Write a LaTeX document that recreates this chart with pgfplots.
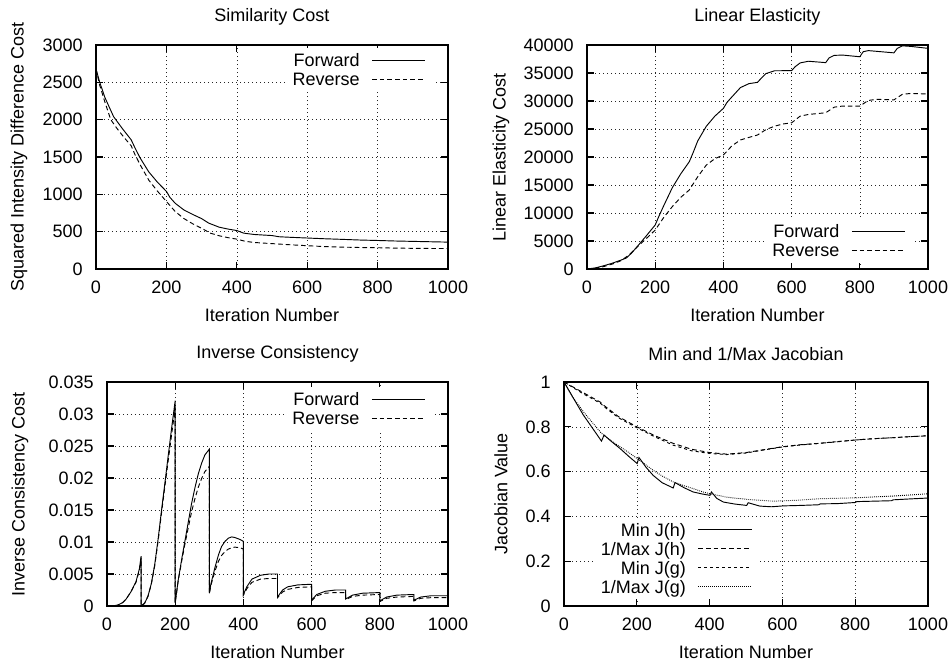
\documentclass[border=0pt]{standalone}
\usepackage{fontspec}
\setmainfont{Liberation Sans}
\usepackage{pgfplots}
\pgfplotsset{compat=1.18}
\pgfplotsset{
 gp/.style={scale only axis, height=168pt, xmin=0, xmax=1000,
  xtick={0,200,400,600,800,1000}, xticklabels={0,200,400,600,800,1000},
  scaled x ticks=false, scaled y ticks=false, no markers,
  /pgf/number format/assume math mode=true,
  grid=major,
  major grid style={line width=0.45pt, dash pattern=on 0.75pt off 2.25pt, black!85},
  axis line style={line width=0.9pt},
  every tick/.style={black, line width=0.8pt},
  major tick length=5pt, tick align=inside,
  xticklabel style={anchor=center, yshift=-13.5pt, inner sep=0pt},
  yticklabel style={anchor=east, xshift=-9.75pt, inner sep=0pt},
  every axis title/.style={at={(axis description cs:0.5,1)}, yshift=21pt, anchor=center},
  every axis x label/.style={at={(axis description cs:0.5,0)}, yshift=-34.5pt, anchor=center},
  xlabel={Iteration Number},
  legend cell align=right, legend plot pos=right,
  legend image code/.code={\draw[##1] (0pt,0pt) -- (40pt,0pt);},
  legend style={draw=none, fill=white, inner xsep=5pt, inner ysep=2pt,
    column sep=9pt, row sep=0pt,
    nodes={inner sep=0pt, text height=11.8pt, text depth=2.45pt}},
  every axis plot/.append style={line width=0.7pt, black},
 },
 ylab/.style={every axis y label/.style={at={(axis description cs:0,0.5)}, xshift=-#1, rotate=90, anchor=center}},
}
\tikzset{
 fwd/.style={black, solid},
 rev/.style={black, dash pattern=on 3.5pt off 2.25pt},
 shortd/.style={black, dash pattern=on 2.25pt off 2.25pt},
 dots/.style={black, dash pattern=on 0.6pt off 0.9pt},
}
\begin{document}
\fontsize{13.5}{16}\selectfont
\begin{tikzpicture}[font=\fontsize{13.5}{16}\selectfont]
\path[use as bounding box] (0,0) rectangle (713.25pt,-498pt);
% Panel 1
\begin{axis}[gp, at={(72pt,-33.75pt)}, anchor=north west, width=264pt,
  ymin=0, ymax=3000, ytick={0,500,1000,1500,2000,2500,3000},
  yticklabels={0,500,1000,1500,2000,2500,3000},
  title={Similarity Cost}, ylabel={Squared Intensity Difference Cost}, ylab=57.75pt,
  legend style={at={(0.957,0.987)}, anchor=north east}]
\addplot[fwd] coordinates {(0,2680)(10,2510)(25,2300)(50,2040)(75,1880)(100,1730)(110,1630)(125,1490)(150,1300)(175,1160)(200,1040)(210,960)(225,880)(250,790)(275,730)(300,675)(320,615)(350,560)(375,535)(400,515)(420,480)(450,462)(500,448)(520,432)(550,425)(600,415)(650,405)(700,397)(750,388)(800,382)(850,375)(900,370)(950,365)(1000,360)};
\addlegendentry{Forward}
\addplot[rev] coordinates {(0,2680)(10,2470)(25,2240)(42,2000)(60,1880)(80,1760)(100,1650)(110,1540)(125,1400)(150,1190)(175,1040)(200,905)(225,770)(250,675)(275,605)(300,545)(325,480)(350,445)(375,420)(400,400)(425,370)(450,355)(500,340)(550,325)(600,312)(650,300)(700,293)(750,288)(800,285)(850,280)(900,277)(950,275)(1000,275)};
\addlegendentry{Reverse}
\end{axis}
% Panel 2
\begin{axis}[gp, at={(440.25pt,-33.75pt)}, anchor=north west, width=255.75pt,
  ymin=0, ymax=40000, ytick={0,5000,10000,15000,20000,25000,30000,35000,40000},
  yticklabels={0,5000,10000,15000,20000,25000,30000,35000,40000},
  title={Linear Elasticity}, ylabel={Linear Elasticity Cost}, ylab=64.5pt,
  legend style={at={(0.955,0.027)}, anchor=south east}]
\addplot[fwd] coordinates {(0,0)(25,200)(50,600)(75,1050)(100,1600)(115,1950)(130,2800)(150,4200)(175,6000)(200,7860)(210,9300)(225,11300)(250,14500)(275,17000)(300,19160)(310,20600)(325,22900)(350,25500)(375,27300)(400,28690)(410,29700)(420,30400)(450,32400)(475,33100)(500,33330)(510,34000)(525,34900)(550,35400)(600,35420)(610,36100)(625,36800)(650,37100)(700,36850)(710,37700)(725,38150)(750,38200)(800,37900)(810,38800)(825,39000)(900,38600)(910,39400)(925,39850)(950,39750)(1000,39400)};
\addlegendentry{Forward}
\addplot[rev] coordinates {(0,0)(25,150)(50,450)(75,900)(100,1490)(125,2600)(150,4100)(175,5500)(200,6960)(225,9200)(250,11130)(275,12800)(300,14110)(325,16500)(350,18570)(375,19700)(400,20360)(425,22000)(450,23040)(475,23500)(500,23930)(525,24900)(550,25500)(575,25900)(600,26100)(625,27300)(650,27600)(700,27900)(725,28900)(750,29100)(800,29100)(825,30100)(850,30300)(900,30200)(925,31200)(950,31350)(1000,31250)};
\addlegendentry{Reverse}
\end{axis}
% Panel 3
\begin{axis}[gp, at={(80.25pt,-286.5pt)}, anchor=north west, width=255.75pt,
  ymin=0, ymax=0.035, ytick={0,0.005,0.01,0.015,0.02,0.025,0.03,0.035},
  yticklabels={0,0.005,0.01,0.015,0.02,0.025,0.03,0.035},
  title={Inverse Consistency}, ylabel={Inverse Consistency Cost}, ylab=65.25pt,
  legend style={at={(0.955,0.978)}, anchor=north east}]
\addplot[fwd] coordinates {(0,0)(30,0.0001)(45,0.0005)(55,0.001)(70,0.0022)(85,0.0038)(95,0.0058)(100,0.0078)(100,0.00005)(110,0.0004)(120,0.0015)(130,0.0035)(140,0.0065)(150,0.0105)(160,0.0150)(170,0.0193)(180,0.0237)(190,0.0280)(200,0.0321)(200,0.0005)(209,0.0041)(219,0.0073)(229,0.0103)(239,0.0133)(248,0.016)(258,0.0185)(268,0.0207)(278,0.0224)(287,0.0236)(300,0.0245)(300,0.0020)(305,0.0035)(317,0.0061)(327,0.0080)(336,0.0093)(346,0.0101)(356,0.0106)(366,0.0108)(375,0.0107)(390,0.0104)(400,0.0101)(400,0.0018)(410,0.0030)(425,0.0042)(450,0.0048)(475,0.0050)(500,0.0050)(500,0.0014)(515,0.0025)(530,0.0030)(560,0.0033)(600,0.0034)(600,0.0009)(615,0.0018)(640,0.0023)(670,0.0025)(700,0.0025)(700,0.0011)(720,0.0017)(750,0.0020)(800,0.0021)(800,0.0008)(820,0.0014)(850,0.0017)(900,0.0018)(900,0.0009)(920,0.0014)(950,0.0016)(1000,0.0016)};
\addlegendentry{Forward}
\addplot[rev] coordinates {(0,0)(30,0.0001)(45,0.0005)(55,0.001)(70,0.0022)(85,0.0037)(95,0.0056)(100,0.0075)(100,0.00005)(110,0.0004)(120,0.0015)(130,0.0034)(140,0.0063)(150,0.0102)(160,0.0146)(170,0.0188)(180,0.0229)(190,0.0270)(200,0.0310)(200,0.0005)(209,0.0040)(219,0.0070)(229,0.0098)(239,0.0124)(248,0.0147)(258,0.0168)(268,0.0186)(278,0.0200)(287,0.0210)(300,0.0218)(300,0.0019)(305,0.0033)(317,0.0055)(327,0.0070)(336,0.0079)(346,0.0085)(356,0.0089)(366,0.0091)(375,0.0092)(390,0.0091)(400,0.0089)(400,0.0017)(410,0.0027)(425,0.0037)(450,0.0042)(475,0.0043)(500,0.0043)(500,0.0013)(515,0.0022)(530,0.0026)(560,0.0029)(600,0.0030)(600,0.0008)(615,0.0016)(640,0.0020)(670,0.0021)(700,0.0021)(700,0.0010)(720,0.0015)(750,0.0017)(800,0.0018)(800,0.0007)(820,0.0012)(850,0.0014)(900,0.0015)(900,0.0008)(920,0.0012)(950,0.0013)(1000,0.0013)};
\addlegendentry{Reverse}
\end{axis}
% Panel 4
\begin{axis}[gp, at={(423pt,-286.5pt)}, anchor=north west, width=273pt,
  ymin=0, ymax=1, ytick={0,0.2,0.4,0.6,0.8,1},
  yticklabels={0,0.2,0.4,0.6,0.8,1},
  title={Min and 1/Max Jacobian}, ylabel={Jacobian Value}, ylab=47.25pt,
  legend style={at={(0.536,0.03)}, anchor=south east}]
\addplot[fwd] coordinates {(0,1)(25,0.93)(53,0.853)(80,0.79)(103,0.736)(110,0.763)(130,0.735)(154,0.703)(180,0.665)(201,0.636)(206,0.663)(225,0.62)(245,0.583)(270,0.55)(300,0.527)(305,0.551)(330,0.528)(355,0.509)(380,0.50)(401,0.494)(405,0.509)(420,0.48)(438,0.464)(470,0.455)(502,0.449)(506,0.461)(538,0.446)(570,0.443)(603,0.447)(650,0.449)(700,0.452)(704,0.456)(750,0.457)(800,0.462)(804,0.466)(850,0.468)(900,0.470)(904,0.474)(950,0.478)(1000,0.482)};
\addlegendentry{Min J(h)}
\addplot[rev] coordinates {(0,1)(50,0.955)(100,0.91)(110,0.895)(150,0.845)(200,0.80)(250,0.76)(300,0.726)(350,0.70)(400,0.685)(447,0.678)(500,0.685)(550,0.698)(600,0.711)(650,0.72)(700,0.726)(750,0.733)(800,0.741)(850,0.747)(900,0.751)(950,0.756)(1000,0.760)};
\addlegendentry{1/Max J(h)}
\addplot[shortd] coordinates {(0,1)(50,0.95)(100,0.905)(110,0.89)(150,0.84)(200,0.796)(250,0.755)(300,0.718)(350,0.693)(400,0.681)(447,0.676)(500,0.683)(550,0.697)(600,0.71)(650,0.719)(700,0.726)(750,0.734)(800,0.741)(850,0.747)(900,0.751)(950,0.756)(1000,0.760)};
\addlegendentry{Min J(g)}
\addplot[dots] coordinates {(0,1)(25,0.93)(53,0.868)(80,0.815)(103,0.771)(130,0.737)(154,0.711)(180,0.683)(201,0.658)(225,0.63)(245,0.606)(270,0.58)(300,0.554)(330,0.537)(355,0.524)(380,0.51)(401,0.501)(447,0.486)(502,0.476)(575,0.468)(640,0.472)(703,0.479)(804,0.483)(905,0.491)(1000,0.501)};
\addlegendentry{1/Max J(g)}
\end{axis}
\end{tikzpicture}
\end{document}
